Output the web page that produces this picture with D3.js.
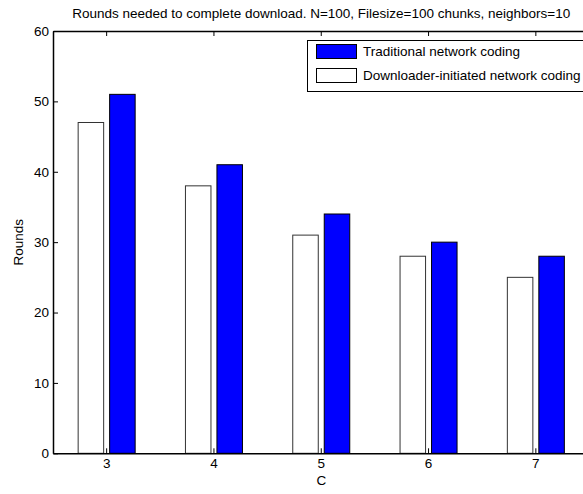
<!DOCTYPE html>
<html>
<head>
<meta charset="utf-8">
<script src="https://cdn.jsdelivr.net/npm/d3@7"></script>
<style>
  body { margin: 0; background: #fff; }
  svg { display: block; }
  text { font-family: "Liberation Sans", Arial, sans-serif; }
</style>
</head>
<body>
<div id="chart"></div>
<script>
// data
var categories = [3, 4, 5, 6, 7];
var traditional = [51, 41, 34, 30, 28];
var downloaderInitiated = [47, 38, 31, 28, 25];
var yTicks = [0, 10, 20, 30, 40, 50, 60];
var seriesNames = ["Traditional network coding", "Downloader-initiated network coding"];

var margin = {top: 31, left: 53},
    width = 536.5,
    height = 422.3,
    fontSize = "13.5px";

var svg = d3.select("#chart")
  .append("svg")
    .attr("width", 583)
    .attr("height", 494);

var g = svg.append("g")
    .attr("transform", "translate(" + margin.left + "," + margin.top + ")");

var x = d3.scaleBand()
  .domain(categories)
  .range([0, width])
  .padding(0);

// white bar left, blue bar right inside each group
var xSub = d3.scaleBand()
  .domain(["down", "trad"])
  .range([0, 57])
  .paddingInner(0.19);

var y = d3.scaleLinear()
  .domain([0, 60])
  .range([height, 0]);

var rows = categories.map(function (c, i) {
  return {c: c, down: downloaderInitiated[i], trad: traditional[i]};
});

// bars
var groups = g.append("g")
  .selectAll("g")
  .data(rows)
  .enter()
  .append("g")
    .attr("transform", function (d) {
      return "translate(" + (x(d.c) + x.bandwidth() / 2 - 28.5) + ",0)";
    });

groups.selectAll("rect")
  .data(function (d) {
    return [{key: "down", v: d.down}, {key: "trad", v: d.trad}];
  })
  .enter()
  .append("rect")
    .attr("x", function (d) { return xSub(d.key); })
    .attr("y", function (d) { return y(d.v); })
    .attr("width", xSub.bandwidth())
    .attr("height", function (d) { return height - y(d.v); })
    .attr("fill", function (d) { return d.key == "trad" ? "#0000ff" : "#ffffff"; })
    .attr("stroke", function (d) { return d.key == "trad" ? "#000" : "#333"; })
    .attr("stroke-width", 1);

// axes, ticks inward like matlab
var xAxis = g.append("g")
  .attr("transform", "translate(0," + height + ")")
  .call(d3.axisBottom(x).tickSizeInner(-5).tickSizeOuter(0).tickPadding(5));

var xTop = g.append("g")
  .call(d3.axisTop(x).tickSizeInner(-5).tickSizeOuter(0).tickFormat(""));

var yAxis = g.append("g")
  .call(d3.axisLeft(y).tickValues(yTicks).tickSizeInner(-5).tickSizeOuter(0).tickPadding(4));

g.selectAll(".domain").attr("stroke", "#000").attr("stroke-width", 1.5);
g.selectAll(".tick line").attr("stroke", "#000");
g.selectAll(".tick text")
  .attr("fill", "#000")
  .style("font-size", fontSize)
  .style("font-family", "'Liberation Sans', Arial, sans-serif");

// title
svg.append("text")
  .attr("x", margin.left + width / 2)
  .attr("y", 18)
  .attr("text-anchor", "middle")
  .style("font-size", fontSize)
  .text("Rounds needed to complete download. N=100, Filesize=100 chunks, neighbors=10");

// x label
svg.append("text")
  .attr("x", margin.left + width / 2)
  .attr("y", 485)
  .attr("text-anchor", "middle")
  .style("font-size", fontSize)
  .text("C");

// y label
svg.append("text")
  .attr("transform", "rotate(-90)")
  .attr("x", -(margin.top + height / 2))
  .attr("y", 23)
  .attr("text-anchor", "middle")
  .style("font-size", fontSize)
  .text("Rounds");

// legend
var legend = svg.append("g")
  .attr("transform", "translate(307,40)");

legend.append("rect")
  .attr("x", 0.5)
  .attr("y", 0.5)
  .attr("width", 290)
  .attr("height", 51)
  .attr("fill", "#fff")
  .attr("stroke", "#000");

var legendFills = ["#0000ff", "#ffffff"];

var items = legend.selectAll(".item")
  .data(seriesNames)
  .enter()
  .append("g")
    .attr("class", "item")
    .attr("transform", function (d, i) { return "translate(0," + (11.5 + i * 24) + ")"; });

items.append("rect")
  .attr("x", 9.5)
  .attr("y", -7)
  .attr("width", 40)
  .attr("height", 14)
  .attr("fill", function (d, i) { return legendFills[i]; })
  .attr("stroke", "#000");

items.append("text")
  .attr("x", 56)
  .attr("y", 0)
  .attr("dy", "0.35em")
  .style("font-size", fontSize)
  .text(function (d) { return d; });
</script>
</body>
</html>
